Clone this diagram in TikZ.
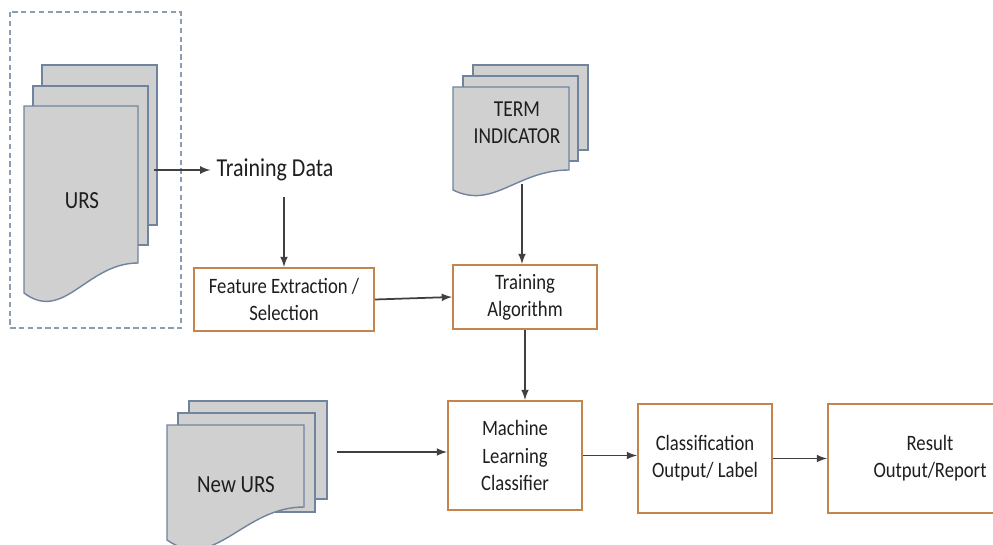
\documentclass[tikz,border=0pt]{standalone}
\usepackage{fontspec}
\setmainfont{Carlito}[FakeStretch=0.85]
\usetikzlibrary{arrows}

\definecolor{pagefill}{RGB}{208,208,208}
\definecolor{pageline}{RGB}{112,132,158}
\definecolor{boxline}{RGB}{196,132,76}
\definecolor{arrowline}{RGB}{64,64,64}
\definecolor{txt}{RGB}{30,30,30}

% front page of a stack: left, top, right, right bottom, left bottom
\newcommand{\docpage}[5]{%
  \filldraw[page] (#1,#2) -- (#3,#2) -- (#3,#4)
    .. controls ({#3-0.45*(#3-#1)},#4) and ({#1+0.35*(#3-#1)},{#5+(#5-#4)}) .. (#1,#5) -- cycle;}

\begin{document}
\begin{tikzpicture}[x=.02cm,y=-.02cm,
	page/.style={fill=pagefill,draw=pageline,line width=.8pt},
	box/.style={draw=boxline,line width=1.2pt,align=center,text=txt,font=\fontsize{12.5}{15.5}\selectfont},
	doclabel/.style={align=center,text=txt},
	flow/.style={->,>=latex,draw=arrowline,line width=1pt}]
			\useasboundingbox (0,0) rectangle (993,544);
			\clip (0,0) rectangle (993,544);
			
			% URS stack
			\draw[dashed,dash pattern=on 3pt off 2pt,draw=pageline!80,line width=.7pt] (10,12) rectangle (181,328);
			\draw[page] (42,65) rectangle (157,225);
			\draw[page] (33,86) rectangle (148,245);
			\docpage{24}{106}{138}{263}{293}
			\node[doclabel,font=\fontsize{14}{17}\selectfont] (urs) at (82,201) {URS};
			\coordinate (ursout) at (154,170);
			
			% TERM INDICATOR stack
			\draw[page] (473,65) rectangle (588,150);
			\draw[page] (463,76) rectangle (578,161);
			\docpage{453}{87}{569}{170}{190}
			\node[doclabel,font=\fontsize{13}{15.5}\selectfont] (term) at (517,123) {TERM\\INDICATOR};
			\coordinate (termout) at (522,184);
			
			% New URS stack
			\draw[page] (189,401) rectangle (327,499);
			\draw[page] (178,413) rectangle (315,512);
			\docpage{167}{425}{304}{507}{540}
			\node[doclabel,font=\fontsize{14}{17}\selectfont] (newurs) at (236,485) {New URS};
			\coordinate (newout) at (337,452);
			
			\node[text=txt,font=\fontsize{14.7}{17}\selectfont] (data) at (275,170) {Training Data};
			\node[box,minimum width=3.6cm,minimum height=1.26cm] (feat) at (284,299.5) {Feature Extraction /\\Selection};
			\node[box,minimum width=2.88cm,minimum height=1.28cm] (train) at (525,297) {Training\\Algorithm};
			\node[box,minimum width=2.68cm,minimum height=2.18cm] (ml) at (515,455.5) {Machine\\Learning\\Classifier};
			\node[box,minimum width=2.68cm,minimum height=2.18cm] (cls) at (705,458.5) {Classification\\Output/ Label};
			\node[box,minimum width=4.08cm,minimum height=2.18cm] (res) at (930,458.5) {Result\\Output/Report};
			
			\draw[flow] (ursout) -- (data.west);
			\draw[flow,shorten <=.2cm] (data.south -| feat.north) -- (feat.north);
			\draw[flow] (feat.east) -- (train.west);
			\draw[flow] (termout) -- (termout |- train.north);
			\draw[flow] (train.south) -- (train.south |- ml.north);
			\draw[flow] (newout) -- (newout -| ml.west);
			\draw[flow] (ml.east) -- (ml.east -| cls.west);
			\draw[flow] (cls.east) -- (cls.east -| res.west);
\end{tikzpicture}
\end{document}
